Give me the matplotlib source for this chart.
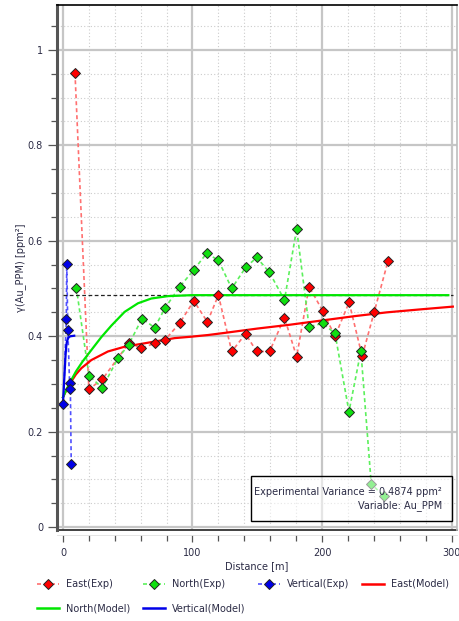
import matplotlib
matplotlib.use("Agg")
import matplotlib.pyplot as plt
from matplotlib.lines import Line2D
from matplotlib.patches import Rectangle
from matplotlib.ticker import MultipleLocator, FuncFormatter

plt.rcParams['font.family'] = ['DejaVu Sans']
plt.rcParams['font.size'] = 7

# ---- experimental variogram points ----
east_lag = [9.3, 20, 30.5, 50.7, 60.5, 70.8, 79, 90, 101, 111.5, 120, 130.3,
            141, 149.5, 159.5, 171, 180.4, 190, 200.5, 210, 220.9, 231, 240.2, 251]
east_gamma = [0.951, 0.289, 0.310, 0.385, 0.375, 0.385, 0.393, 0.427, 0.474, 0.430,
              0.486, 0.368, 0.405, 0.368, 0.368, 0.439, 0.357, 0.504, 0.453, 0.400,
              0.471, 0.358, 0.450, 0.558]

north_lag = [10.3, 20.1, 30.4, 42.5, 50.7, 61, 70.8, 79, 90, 101, 111, 120, 130.3,
             141, 149.6, 159.3, 171, 180.4, 190, 200.5, 210, 220.8, 230, 238, 248]
north_gamma = [0.502, 0.317, 0.292, 0.354, 0.382, 0.437, 0.418, 0.460, 0.503, 0.539,
               0.574, 0.559, 0.500, 0.544, 0.565, 0.534, 0.476, 0.625, 0.420, 0.427,
               0.406, 0.242, 0.369, 0.090, 0.065]

vert_lag = [0.3, 2.6, 2.9, 3.8, 5.1, 5.7, 6.4]
vert_gamma = [0.258, 0.436, 0.551, 0.412, 0.303, 0.289, 0.132]

# ---- model curves ----
east_model_lag = [0, 3, 6.4, 10, 14.2, 21.9, 34.7, 47.6, 60.5, 73.4, 86.2, 99.1,
                  112, 125, 150, 175, 200, 225, 250, 275, 301]
east_model_gamma = [0.272, 0.289, 0.305, 0.320, 0.333, 0.350, 0.368, 0.378, 0.384,
                    0.390, 0.396, 0.399, 0.4025, 0.407, 0.416, 0.424, 0.433, 0.442,
                    0.450, 0.456, 0.462]

north_model_lag = [0, 3, 6.4, 10, 15.4, 21.9, 29.6, 37.3, 47.6, 57.9, 68.2, 81.1,
                   90, 99.1, 297.5]
north_model_gamma = [0.272, 0.290, 0.308, 0.326, 0.348, 0.371, 0.398, 0.422, 0.451,
                     0.469, 0.479, 0.484, 0.485, 0.486, 0.486]

vert_model_lag = [0, 0.5, 1, 1.5, 2, 2.5, 3, 4, 5, 6, 8.7]
vert_model_gamma = [0.258, 0.285, 0.310, 0.335, 0.360, 0.378, 0.388, 0.396, 0.399,
                    0.400, 0.401]

exp_variance = 0.4874
variance_span = [0, 301]

# styles
RED, GREEN, BLUE = "#ff0000", "#10e010", "#0000e8"
RED_D, GREEN_D, BLUE_D = "#ff7070", "#5cf05c", "#5050ff"
dash = (0, (2.4, 1.8))

W, H = 460, 621
fig = plt.figure(figsize=(W / 100, H / 100), dpi=100)
ax = fig.add_axes([57 / W, 1 - 529.5 / H, 400 / W, 524.5 / H])
ax.set_xlim(-4.6, 304.2)
ax.set_ylim(-0.005, 1.094)

# grid
ax.xaxis.set_major_locator(MultipleLocator(100))
ax.xaxis.set_minor_locator(MultipleLocator(20))
ax.yaxis.set_major_locator(MultipleLocator(0.2))
ax.yaxis.set_minor_locator(MultipleLocator(0.05))
ax.yaxis.set_major_formatter(FuncFormatter(lambda v, p: f"{v:g}"))
ax.grid(which="major", color="#c6c6c6", lw=1.6, ls="-")
ax.grid(which="minor", color="#cccccc", lw=0.8, ls=(0, (1, 2)))
ax.set_axisbelow(True)

# experimental variance
ax.plot(variance_span, [exp_variance, exp_variance], color="#222222", lw=0.9,
        ls=(0, (3, 2)), zorder=2.5)

series = [
    (east_lag, east_gamma, RED, RED_D),
    (north_lag, north_gamma, GREEN, GREEN_D),
    (vert_lag, vert_gamma, BLUE, BLUE_D),
]
for lag, gam, c, cd in series:
    ax.plot(lag, gam, color=cd, lw=1.2, ls=dash, zorder=2)

ax.plot(east_model_lag, east_model_gamma, color=RED, lw=1.6, zorder=3)
ax.plot(north_model_lag, north_model_gamma, color="#00e600", lw=1.6, zorder=3)
ax.plot(vert_model_lag, vert_model_gamma, color=BLUE, lw=1.6, zorder=3)

for lag, gam, c, cd in series:
    ax.plot(lag, gam, ls="none", marker="D", ms=4.6, mfc=c, mec="#222222",
            mew=0.7, zorder=5)

# spines / ticks
for side in ["top", "right", "left", "bottom"]:
    ax.spines[side].set_zorder(6)
ax.spines["top"].set_color("black")
ax.spines["top"].set_linewidth(1.2)
ax.spines["right"].set_color("#bdbdbd")
ax.spines["right"].set_linewidth(1.2)
ax.spines["left"].set_color("#555555")
ax.spines["left"].set_linewidth(2.2)
ax.spines["bottom"].set_position(("outward", 4))
ax.spines["bottom"].set_color("#e0e0e0")
ax.spines["bottom"].set_linewidth(0.6)
ax.plot([0, 1], [0, 0], transform=ax.transAxes, color="#333333", lw=1.3,
        clip_on=False, zorder=6)

ax.tick_params(axis="y", which="major", length=6.5, width=0.9, color="#555555",
               labelcolor="#2b2b45", pad=3.5)
ax.tick_params(axis="y", which="minor", length=4, width=0.9, color="#555555")
ax.tick_params(axis="x", which="major", length=5, width=0.9, color="#555555",
               labelcolor="#2b2b45", pad=4)
ax.tick_params(axis="x", which="minor", length=4, width=0.9, color="#555555")

ax.set_ylabel("γ(Au_PPM) [ppm²]", color="#2b2b45")
ax.yaxis.set_label_coords(-0.0775, 0.5)
ax.set_xlabel("Distance [m]", color="#2b2b45")
ax.xaxis.set_label_coords(0.5, -0.06)

# info box
box = Rectangle((0.485, 0.0168), 0.502, 0.085, transform=ax.transAxes,
                facecolor="white", alpha=0.55, edgecolor="none", zorder=8)
ax.add_patch(box)
ax.add_patch(Rectangle((0.485, 0.0168), 0.502, 0.085, transform=ax.transAxes,
                       facecolor="none", edgecolor="black", lw=1.0, zorder=9))
ax.text(0.962, 0.0709, f"Experimental Variance = {exp_variance} ppm²",
        transform=ax.transAxes, ha="right", va="center", color="#2b2b45", zorder=10)
ax.text(0.962, 0.0448, "Variable: Au_PPM", transform=ax.transAxes, ha="right",
        va="center", color="#2b2b45", zorder=10)

# legend (row-major order for 4 columns)
def exp_handle(c, cd, label):
    return Line2D([], [], color=cd, lw=1.2, ls=dash, marker="D", ms=4.6, mfc=c,
                  mec="#222222", mew=0.7, label=label)

def mod_handle(c, label):
    return Line2D([], [], color=c, lw=1.8, label=label)

h_e = exp_handle(RED, RED_D, "East(Exp)")
h_n = exp_handle(GREEN, GREEN_D, "North(Exp)")
h_v = exp_handle(BLUE, BLUE_D, "Vertical(Exp)")
m_e = mod_handle(RED, "East(Model)")
m_n = mod_handle("#00e600", "North(Model)")
m_v = mod_handle(BLUE, "Vertical(Model)")
handles = [h_e, m_n, h_n, m_v, h_v, m_e]
fig.legend(handles=handles, labels=[h.get_label() for h in handles], ncol=4,
           loc="upper left", bbox_to_anchor=(37 / W, 1 - 579 / H), frameon=False,
           borderpad=0, borderaxespad=0, handlelength=2.26, handletextpad=0.72,
           columnspacing=1.3, labelspacing=1.45, numpoints=1, labelcolor="#2b2b45")

fig.savefig("out.png", dpi=100)
